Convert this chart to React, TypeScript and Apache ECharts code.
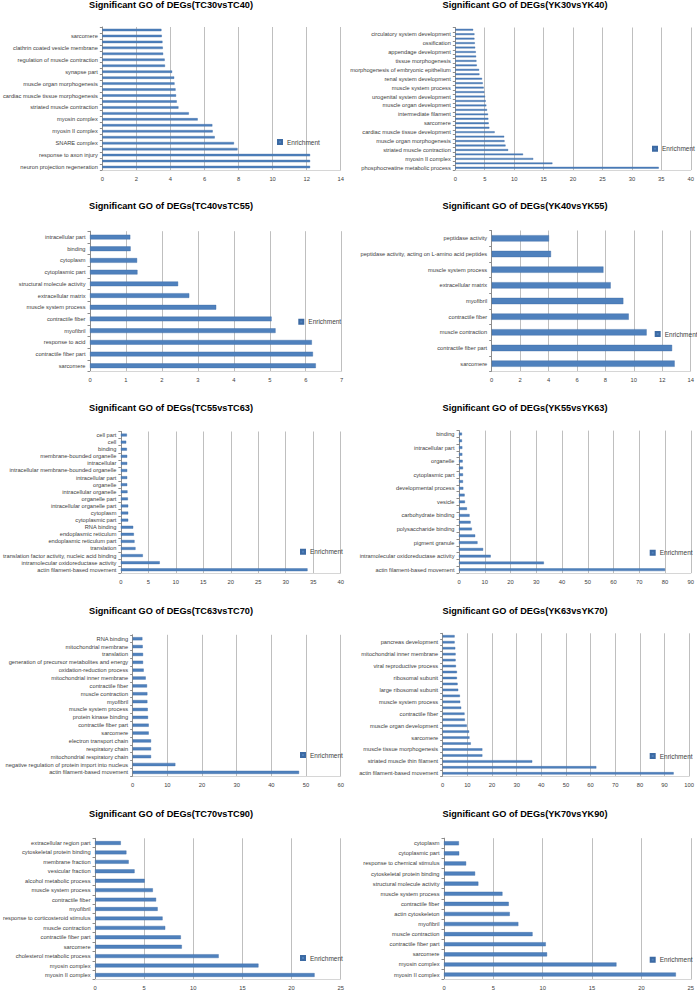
import React, { useEffect, useRef } from "react";
import * as echarts from "echarts";

// ---------- DATA (listed top-to-bottom as drawn; null = unlabeled category) ----------
const TITLES = [
  "Significant GO of DEGs(TC30vsTC40)",
  "Significant GO of DEGs(YK30vsYK40)",
  "Significant GO of DEGs(TC40vsTC55)",
  "Significant GO of DEGs(YK40vsYK55)",
  "Significant GO of DEGs(TC55vsTC63)",
  "Significant GO of DEGs(YK55vsYK63)",
  "Significant GO of DEGs(TC63vsTC70)",
  "Significant GO of DEGs(YK63vsYK70)",
  "Significant GO of DEGs(TC70vsTC90)",
  "Significant GO of DEGs(YK70vsYK90)",
];

const LABELS_TC30_TC40 = [
  null, "sarcomere", null, "clathrin coated vesicle membrane", null, "regulation of muscle contraction",
  null, "synapse part", null, "muscle organ morphogenesis", null, "cardiac muscle tissue morphogenesis",
  null, "striated muscle contraction", null, "myosin complex", null, "myosin II complex",
  null, "SNARE complex", null, "response to axon injury", null, "neuron projection regeneration",
];
const VALUES_TC30_TC40 = [3.47, 3.49, 3.53, 3.55, 3.57, 3.66, 3.68, 4.1, 4.22, 4.24, 4.3, 4.33, 4.37, 4.47, 5.08, 5.6, 6.46, 6.48, 6.6, 7.73, 7.94, 12.2, 12.2, 12.2];

const LABELS_YK30_YK40 = [
  null, "circulatory system development", null, "ossification", null, "appendage development",
  null, "tissue morphogenesis", null, "morphogenesis of embryonic epithelium", null, "renal system development",
  null, "muscle system process", null, "urogenital system development", null, "muscle organ development",
  null, "intermediate filament", null, "sarcomere", null, "cardiac muscle tissue development",
  null, "muscle organ morphogenesis", null, "striated muscle contraction", null, "myosin II complex",
  null, "phosphocreatine metabolic process",
];
const VALUES_YK30_YK40 = [3.03, 3.25, 3.25, 3.31, 3.37, 3.48, 3.53, 3.59, 3.65, 4.04, 4.1, 4.54, 4.66, 4.82, 4.94, 5.05, 5.16, 5.27, 5.39, 5.55, 5.61, 5.67, 5.78, 6.68, 8.3, 8.36, 8.53, 8.98, 11.5, 13.24, 16.49, 34.56];

const LABELS_TC40_TC55 = [
  "intracellular part", "binding", "cytoplasm", "cytoplasmic part", "structural molecule activity",
  "extracellular matrix", "muscle system process", "contractile fiber", "myofibril", "response to acid",
  "contractile fiber part", "sarcomere",
];
const VALUES_TC40_TC55 = [1.12, 1.13, 1.31, 1.32, 2.45, 2.76, 3.51, 5.05, 5.16, 6.17, 6.2, 6.28];

const LABELS_YK40_YK55 = [
  "peptidase activity", "peptidase activity, acting on L-amino acid peptides", "muscle system process",
  "extracellular matrix", "myofibril", "contractile fiber", "muscle contraction", "contractile fiber part", "sarcomere",
];
const VALUES_YK40_YK55 = [4.03, 4.17, 7.86, 8.37, 9.26, 9.64, 10.9, 12.69, 12.87];

const LABELS_TC55_TC63 = [
  "cell part", "cell", "binding", "membrane-bounded organelle", "intracellular",
  "intracellular membrane-bounded organelle", "intracellular part", "organelle", "intracellular organelle",
  "organelle part", "intracellular organelle part", "cytoplasm", "cytoplasmic part", "RNA binding",
  "endoplasmic reticulum", "endoplasmic reticulum part", "translation",
  "translation factor activity, nucleic acid binding", "intramolecular oxidoreductase activity",
  "actin filament-based movement",
];
const VALUES_TC55_TC63 = [1.09, 0.97, 1.09, 1.15, 1.15, 1.15, 1.15, 1.15, 1.2, 1.27, 1.33, 1.33, 1.33, 2.24, 2.36, 2.48, 2.66, 3.99, 7.07, 33.96];

const LABELS_YK55_YK63 = [
  "binding", null, "intracellular part", null, "organelle", null, "cytoplasmic part", null,
  "developmental process", null, "vesicle", null, "carbohydrate binding", null, "polysaccharide binding",
  null, "pigment granule", null, "intramolecular oxidoreductase activity", null, "actin filament-based movement",
];
const VALUES_YK55_YK63 = [1.15, 1.15, 1.28, 1.28, 1.41, 1.54, 1.54, 1.54, 1.67, 2.18, 2.3, 3.08, 4.1, 4.5, 5.0, 6.28, 7.18, 9.36, 12.3, 32.95, 80.0];

const LABELS_TC63_TC70 = [
  "RNA binding", "mitochondrial membrane", "translation", "generation of precursor metabolites and energy",
  "oxidation-reduction process", "mitochondrial inner membrane", "contractile fiber", "muscle contraction",
  "myofibril", "muscle system process", "protein kinase binding", "contractile fiber part", "sarcomere",
  "electron transport chain", "respiratory chain", "mitochondrial respiratory chain",
  "negative regulation of protein import into nucleus", "actin filament-based movement",
];
const VALUES_TC63_TC70 = [2.79, 2.88, 2.98, 2.98, 3.17, 3.75, 4.13, 4.23, 4.23, 4.33, 4.42, 4.62, 4.62, 5.29, 5.29, 5.29, 12.3, 47.98];

const LABELS_YK63_YK70 = [
  null, "pancreas development", null, "mitochondrial inner membrane", null, "viral reproductive process",
  null, "ribosomal subunit", null, "large ribosomal subunit", null, "muscle system process",
  null, "contractile fiber", null, "muscle organ development", null, "sarcomere",
  null, "muscle tissue morphogenesis", null, "striated muscle thin filament", null, "actin filament-based movement",
];
const VALUES_YK63_YK70 = [4.83, 4.83, 5.09, 5.23, 5.23, 5.36, 5.76, 5.76, 6.03, 6.3, 6.97, 7.1, 7.5, 8.85, 8.98, 9.79, 10.72, 10.86, 11.39, 16.09, 16.09, 36.33, 62.33, 93.7];

const LABELS_TC70_TC90 = [
  "extracellular region part", "cytoskeletal protein binding", "membrane fraction", "vesicular fraction",
  "alcohol metabolic process", "muscle system process", "contractile fiber", "myofibril",
  "response to corticosteroid stimulus", "muscle contraction", "contractile fiber part", "sarcomere",
  "cholesterol metabolic process", "myosin complex", "myosin II complex",
];
const VALUES_TC70_TC90 = [2.62, 3.19, 3.42, 4.02, 5.05, 5.88, 6.21, 6.37, 6.87, 7.14, 8.73, 8.83, 12.58, 16.63, 22.34];

const LABELS_YK70_YK90 = [
  "cytoplasm", "cytoplasmic part", "response to chemical stimulus", "cytoskeletal protein binding",
  "structural molecule activity", "muscle system process", "contractile fiber", "actin cytoskeleton",
  "myofibril", "muscle contraction", "contractile fiber part", "sarcomere", "myosin complex", "myosin II complex",
];
const VALUES_YK70_YK90 = [1.51, 1.54, 2.24, 3.15, 3.48, 5.92, 6.56, 6.66, 7.53, 8.97, 10.31, 10.44, 17.47, 23.49];

const X_MAX = [14, 40, 7, 14, 40, 90, 60, 100, 25, 25];
const X_STEP = [2, 5, 1, 2, 5, 10, 10, 10, 5, 5];
const SERIES_NAME = "Enrichment";

const ALL_LABELS = [
  LABELS_TC30_TC40, LABELS_YK30_YK40, LABELS_TC40_TC55, LABELS_YK40_YK55, LABELS_TC55_TC63,
  LABELS_YK55_YK63, LABELS_TC63_TC70, LABELS_YK63_YK70, LABELS_TC70_TC90, LABELS_YK70_YK90,
];
const ALL_VALUES = [
  VALUES_TC30_TC40, VALUES_YK30_YK40, VALUES_TC40_TC55, VALUES_YK40_YK55, VALUES_TC55_TC63,
  VALUES_YK55_YK63, VALUES_TC63_TC70, VALUES_YK63_YK70, VALUES_TC70_TC90, VALUES_YK70_YK90,
];

// ---------- LAYOUT ----------
// [left, top, width, height] of plot area
const GRIDS = [
  [97.3, 27, 243.4, 143],
  [455.3, 27.5, 237.7, 142.5],
  [90, 231.2, 251.7, 140.4],
  [491.7, 230.5, 199, 141],
  [120, 431.5, 220.7, 141.8],
  [459, 430.6, 234, 142.5],
  [132.7, 634.8, 208, 141.5],
  [442.7, 633.3, 248.6, 143],
  [89.7, 838.3, 251, 141.4],
  [444, 838.2, 249, 141.4],
];
const TITLE_POS = [
  [171, 6], [525, 5.7], [171, 207.3], [525, 207.3], [171, 409],
  [525, 409], [171, 611.7], [525, 611.7], [171, 814.7], [525, 814.7],
];
const LEGEND_POS = [
  [277, 142], [652, 148.7], [298.3, 321.7], [654.7, 334], [300, 551.7],
  [649.7, 552.7], [300, 755], [649.7, 756], [300, 958], [649.7, 959.7],
];

const FONT = "'Liberation Sans', Arial, sans-serif";
const BAR_COLOR = "#4F81BD";
const TITLE_SIZE = 9.2;

function buildOption() {
  const title: any[] = [];
  const grid: any[] = [];
  const xAxis: any[] = [];
  const yAxis: any[] = [];
  const series: any[] = [];
  const legend: any[] = [];

  for (let i = 0; i < 10; i++) {
    const [l, t, w, h] = GRIDS[i];
    const cats = ALL_LABELS[i].map((s, k) => (s == null ? `__${k}` : s));
    title.push({
      text: TITLES[i],
      left: TITLE_POS[i][0],
      top: TITLE_POS[i][1] - TITLE_SIZE / 2 - 1,
      textAlign: "center",
      padding: 0,
      textStyle: { fontFamily: FONT, fontSize: TITLE_SIZE, fontWeight: "bold", color: "#000" },
    });
    grid.push({ left: l, top: t, width: w, height: h, containLabel: false });
    xAxis.push({
      type: "value",
      gridIndex: i,
      min: 0,
      max: X_MAX[i],
      interval: X_STEP[i],
      axisLine: { show: true, lineStyle: { color: "#d6d6d6", width: 1 } },
      axisTick: { show: false },
      axisLabel: { fontFamily: FONT, fontSize: 5.8, color: "#404040", margin: 5.5 },
      splitLine: { show: true, lineStyle: { color: "#bfbfbf", width: 1 } },
    });
    yAxis.push({
      type: "category",
      gridIndex: i,
      inverse: true,
      data: cats,
      axisLine: { show: true, lineStyle: { color: "#8c8c8c", width: 1 } },
      axisTick: { show: true, length: 2.5, lineStyle: { color: "#8c8c8c" } },
      axisLabel: {
        interval: 0,
        fontFamily: FONT,
        fontSize: 5.7,
        color: "#404040",
        margin: 4.5,
        formatter: (v: string) => (v.startsWith("__") ? "" : v),
      },
      splitLine: { show: false },
    });
    series.push({
      type: "bar",
      name: SERIES_NAME,
      xAxisIndex: i,
      yAxisIndex: i,
      data: ALL_VALUES[i],
      barCategoryGap: "60%",
      itemStyle: { color: BAR_COLOR, borderColor: "#3c6aa3", borderWidth: 0.4 },
    });
    legend.push({
      data: [SERIES_NAME],
      left: LEGEND_POS[i][0],
      top: LEGEND_POS[i][1] - 3.5,
      padding: 0,
      itemWidth: 4,
      itemHeight: 4,
      icon: "rect",
      selectedMode: false,
      textStyle: { fontFamily: FONT, fontSize: 6.5, color: "#404040" },
    });
  }

  return {
    animation: false,
    backgroundColor: "#ffffff",
    title,
    grid,
    xAxis,
    yAxis,
    series,
    legend,
  };
}

export default function App() {
  const ref = useRef<HTMLDivElement>(null);
  useEffect(() => {
    if (!ref.current) return;
    const chart = echarts.init(ref.current, undefined, { renderer: "svg" });
    chart.setOption(buildOption() as any);
    return () => chart.dispose();
  }, []);
  return (
    <div
      ref={ref}
      style={{ position: "absolute", left: 0, top: 0, width: 697, height: 992, background: "#fff" }}
    />
  );
}
